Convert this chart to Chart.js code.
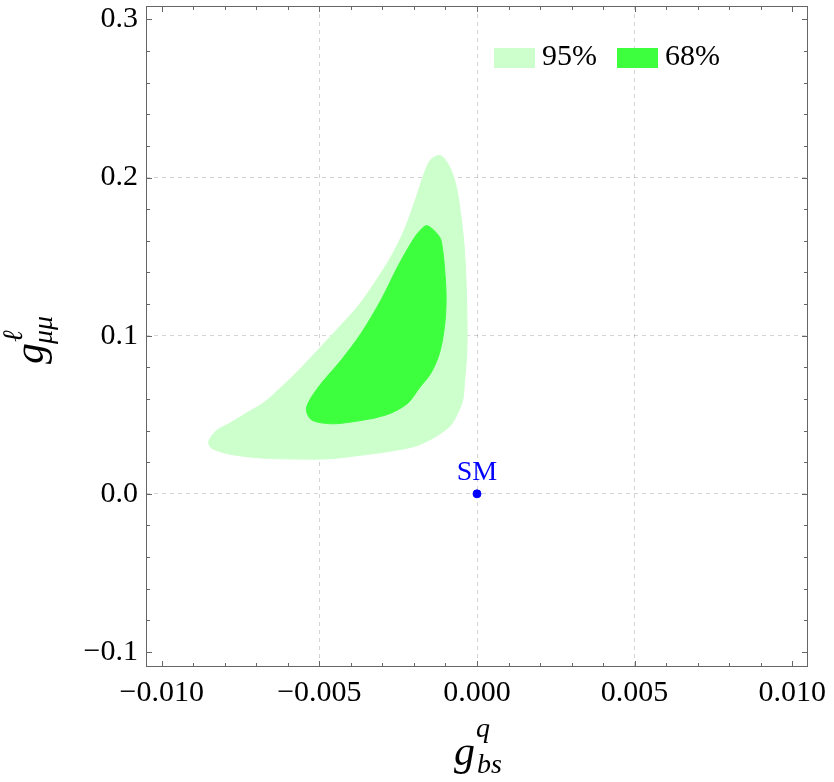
<!DOCTYPE html>
<html>
<head>
<meta charset="utf-8">
<script src="https://cdn.jsdelivr.net/npm/chart.js@4.4.0/dist/chart.umd.min.js"></script>
<style>
  html, body { margin: 0; padding: 0; background: #fff; }
  #grafico { display: block; }
</style>
</head>
<body>
<canvas id="grafico" width="834" height="782"></canvas>
<script>
// contorno 95% (g_bs^q, g_mumu^l)
const conf95X = [-0.00357, -0.00467, -0.00573, -0.00678, -0.00784, -0.00842, -0.00851, -0.00826, -0.00784, -0.00731,
                 -0.00678, -0.00626, -0.00573, -0.00504, -0.00430, -0.00378, -0.00325, -0.00272, -0.00230, -0.00188,
                 -0.00167, -0.00146, -0.00116, -0.00088, -0.00066, -0.00051, -0.00040, -0.00033, -0.00032, -0.00040,
                 -0.00045, -0.00061, -0.00082, -0.00114, -0.00156, -0.00198, -0.00275];
const conf95Y = [0.0247, 0.0222, 0.0220, 0.0226, 0.0251, 0.0289, 0.0331, 0.0401, 0.0447, 0.0511,
                 0.0574, 0.0665, 0.0766, 0.0911, 0.1070, 0.1185, 0.1334, 0.1502, 0.1671, 0.1903,
                 0.2030, 0.2114, 0.2139, 0.2072, 0.1945, 0.1755, 0.1544, 0.1228, 0.0911, 0.0700,
                 0.0595, 0.0511, 0.0437, 0.0384, 0.0335, 0.0300, 0.0270];

// contorno 68%
const conf68X = [-0.00325, -0.00394, -0.00462, -0.00525, -0.00541, -0.00507, -0.00430, -0.00367, -0.00304, -0.00251,
                 -0.00209, -0.00183, -0.00158, -0.00119, -0.00109, -0.00101, -0.00098, -0.00103, -0.00119, -0.00146,
                 -0.00183, -0.00219, -0.00272];
const conf68Y = [0.0479, 0.0456, 0.0443, 0.0468, 0.0542, 0.0665, 0.0848, 0.1017, 0.1228, 0.1439,
                 0.1587, 0.1660, 0.1696, 0.1625, 0.1544, 0.1375, 0.1228, 0.1059, 0.0890, 0.0764,
                 0.0669, 0.0574, 0.0511];

// ponto do modelo padrao
const smX = [0.0];
const smY = [0.0];
const smLabel = 'SM';

const xTicks = [-0.010, -0.005, 0.000, 0.005, 0.010];
const yTicks = [-0.1, 0.0, 0.1, 0.2, 0.3];
const legendLabels = ['95%', '68%'];

const cor95 = 'rgb(204,255,204)';
const cor68 = 'rgb(62,255,62)';
const fonte = '"Liberation Serif", "DejaVu Serif", serif';

function pontos(xs, ys) {
  const p = xs.map((x, i) => ({x: x, y: ys[i]}));
  p.push({x: xs[0], y: ys[0]});
  return p;
}

function sinal(v, casas) {
  const s = Math.abs(v).toFixed(casas);
  return (v < -1e-12 ? '\u2212' : '') + s;
}

// moldura, ticks menores, legenda, titulos
const extras = {
  id: 'extras',
  afterDraw(chart) {
    const ctx = chart.ctx;
    const a = chart.chartArea;
    const sx = chart.scales.x;
    const sy = chart.scales.y;
    ctx.save();
    ctx.strokeStyle = '#666';
    ctx.lineWidth = 1;
    ctx.strokeRect(a.left + 0.5, a.top + 0.5, a.right - a.left - 1, a.bottom - a.top - 1);

    ctx.beginPath();
    for (let i = -10; i <= 10; i++) {
      const px = Math.round(sx.getPixelForValue(i * 0.001)) + 0.5;
      const len = i % 5 === 0 ? 6 : 4;
      ctx.moveTo(px, a.bottom); ctx.lineTo(px, a.bottom - len);
      ctx.moveTo(px, a.top); ctx.lineTo(px, a.top + len);
    }
    for (let i = -5; i <= 15; i++) {
      const py = Math.round(sy.getPixelForValue(i * 0.02)) + 0.5;
      const len = i % 5 === 0 ? 6 : 4;
      ctx.moveTo(a.left, py); ctx.lineTo(a.left + len, py);
      ctx.moveTo(a.right, py); ctx.lineTo(a.right - len, py);
    }
    ctx.stroke();

    // SM
    ctx.fillStyle = '#0000ff';
    ctx.font = '28px ' + fonte;
    ctx.textAlign = 'center';
    ctx.textBaseline = 'alphabetic';
    ctx.fillText(smLabel, sx.getPixelForValue(smX[0]), sy.getPixelForValue(smY[0]) - 14);

    // legenda
    const cores = [cor95, cor68];
    let lx = 494;
    ctx.font = '30px ' + fonte;
    ctx.textAlign = 'left';
    legendLabels.forEach((txt, i) => {
      ctx.fillStyle = cores[i];
      ctx.fillRect(lx, 48, 41, 20);
      ctx.fillStyle = '#000';
      ctx.fillText(txt, lx + 48, 65);
      lx += 123;
    });

    // titulo x: g^q_bs
    const grande = 'italic 42px ' + fonte;
    const peq = 'italic 28px ' + fonte;
    ctx.fillStyle = '#000';
    ctx.font = grande;
    const wg = ctx.measureText('g').width;
    ctx.font = peq;
    const wsub = ctx.measureText('bs').width;
    const cx = (a.left + a.right) / 2;
    let x0 = cx - (wg + wsub) / 2;
    ctx.font = grande;
    ctx.fillText('g', x0, 765);
    ctx.font = peq;
    ctx.fillText('q', x0 + wg + 1, 737);
    ctx.fillText('bs', x0 + wg + 2, 773);

    // titulo y: g^l_mumu
    ctx.translate(43, (a.top + a.bottom) / 2 + 3);
    ctx.rotate(-Math.PI / 2);
    ctx.font = grande;
    const wg2 = ctx.measureText('g').width;
    ctx.font = peq;
    const wmu = ctx.measureText('\u03bc\u03bc').width;
    x0 = -(wg2 + wmu) / 2;
    ctx.font = grande;
    ctx.fillText('g', x0, 0);
    ctx.font = peq;
    ctx.fillText('\u2113', x0 + wg2 + 1, -21);
    ctx.fillText('\u03bc\u03bc', x0 + wg2 - 1, 9);
    ctx.restore();
  }
};

const grafico = document.getElementById('grafico');

new Chart(grafico, {
  type: 'scatter',
  data: {
    datasets: [
      {
        label: legendLabels[0],
        data: pontos(conf95X, conf95Y),
        showLine: true,
        fill: 'shape',
        backgroundColor: cor95,
        borderColor: cor95,
        borderWidth: 1,
        pointRadius: 0,
        tension: 0.3,
        order: 3
      },
      {
        label: legendLabels[1],
        data: pontos(conf68X, conf68Y),
        showLine: true,
        fill: 'shape',
        backgroundColor: cor68,
        borderColor: cor68,
        borderWidth: 1,
        pointRadius: 0,
        tension: 0.3,
        order: 2
      },
      {
        label: smLabel,
        data: smX.map((x, i) => ({x: x, y: smY[i]})),
        backgroundColor: '#0000ff',
        borderColor: '#0000ff',
        pointRadius: 4,
        order: 1
      }
    ]
  },
  options: {
    responsive: false,
    animation: false,
    layout: { padding: { top: 6, right: 26, left: 0, bottom: 0 } },
    plugins: {
      legend: { display: false },
      tooltip: { enabled: false }
    },
    scales: {
      x: {
        type: 'linear',
        min: -0.0105,
        max: 0.0105,
        z: 1,
        afterBuildTicks: (s) => { s.ticks = xTicks.map(v => ({value: v})); },
        afterFit: (s) => { s.height = 115; s.paddingLeft = 0; s.paddingRight = 0; },
        ticks: {
          color: '#000',
          padding: 8,
          maxRotation: 0,
          font: { family: fonte, size: 30 },
          callback: (v) => sinal(v, 3)
        },
        grid: {
          drawTicks: false,
          lineWidth: 1,
          color: (c) => (c.tick && Math.abs(c.tick.value) < 0.009) ? 'rgba(0,0,0,0.17)' : 'transparent'
        },
        border: { display: false, dash: [4, 4] }
      },
      y: {
        type: 'linear',
        min: -0.1095,
        max: 0.3085,
        z: 1,
        afterBuildTicks: (s) => { s.ticks = yTicks.map(v => ({value: v})); },
        afterFit: (s) => { s.width = 146; s.paddingTop = 0; s.paddingBottom = 0; },
        ticks: {
          color: '#000',
          padding: 8,
          font: { family: fonte, size: 30 },
          callback: (v) => sinal(v, 1)
        },
        grid: {
          drawTicks: false,
          lineWidth: 1,
          color: (c) => (c.tick && c.tick.value > -0.05 && c.tick.value < 0.25) ? 'rgba(0,0,0,0.17)' : 'transparent'
        },
        border: { display: false, dash: [4, 4] }
      }
    }
  },
  plugins: [extras]
});
</script>
</body>
</html>
